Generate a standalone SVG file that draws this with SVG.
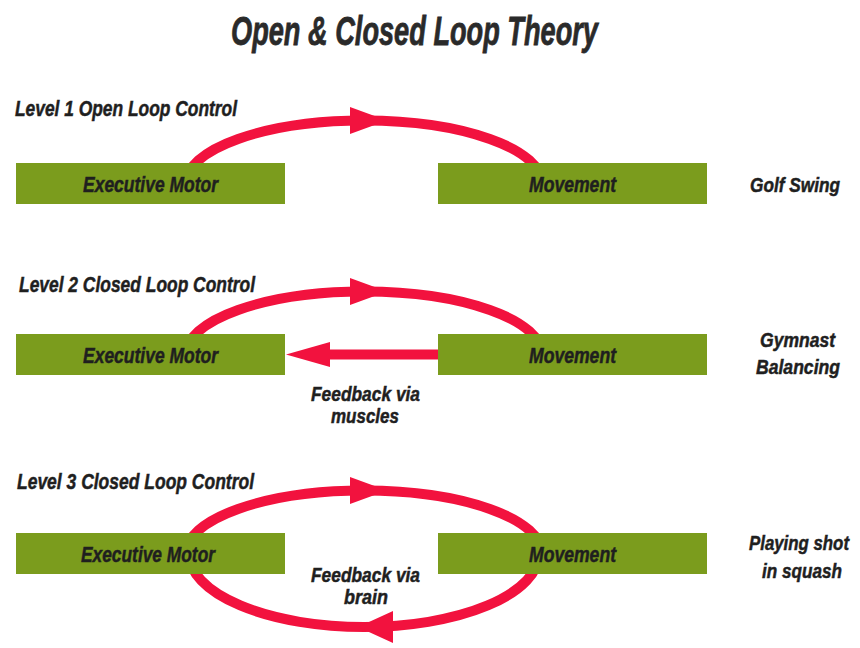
<svg xmlns="http://www.w3.org/2000/svg" width="860" height="648" viewBox="0 0 860 648">
  <style>
    .box { fill: #7b9c1d; }
    .lbl { font-family: "Liberation Sans Narrow", "Liberation Sans", "DejaVu Sans Condensed", sans-serif; font-weight: bold; font-style: italic; font-size: 22px; fill: #1f1f1f; stroke: #1f1f1f; stroke-width: 0.5; }
    .side { font-size: 20px; }
    .title { font-size: 40px; fill: #2a2a2a; stroke: #2a2a2a; stroke-width: 0.8; }
    .flow { fill: none; stroke: #f2123e; stroke-width: 10; }
    .head { fill: #f2123e; }
  </style>
  <rect width="860" height="648" fill="#ffffff"/>

  <text class="lbl title" x="231" y="45" textLength="367" lengthAdjust="spacingAndGlyphs">Open &amp; Closed Loop Theory</text>

  <!-- level headings -->
  <g id="heading-level1"><text class="lbl" x="15" y="116" font-size="21" textLength="222" lengthAdjust="spacingAndGlyphs">Level 1 Open Loop Control</text></g>
  <g id="heading-level2"><text class="lbl" x="19" y="292" font-size="21" textLength="236" lengthAdjust="spacingAndGlyphs">Level 2 Closed Loop Control</text></g>
  <g id="heading-level3"><text class="lbl" x="17" y="489" font-size="21" textLength="237" lengthAdjust="spacingAndGlyphs">Level 3 Closed Loop Control</text></g>

  <!-- connectors -->
  <g id="connectors">
    <!-- level 1: motor to movement -->
    <path class="flow" d="M 186 183.5 A 178 63 0 0 1 542 183.5"/>
    <polygon class="head" points="350,107 387,120.5 350,134"/>
    <!-- level 2: motor to movement, feedback back via muscles -->
    <path class="flow" d="M 186 354.5 A 178 63 0 0 1 542 354.5"/>
    <polygon class="head" points="350,278 387,291.5 350,305"/>
    <line class="flow" x1="438" y1="354.5" x2="325" y2="354.5" stroke-width="9"/>
    <polygon class="head" points="330,342 286,354.5 330,367"/>
    <!-- level 3: full loop through brain -->
    <path class="flow" d="M 186 553.5 A 178 63 0 0 1 542 553.5"/>
    <polygon class="head" points="350,477 387,490.5 350,504"/>
    <path class="flow" d="M 539 553.5 A 175 73.5 0 0 1 189 553.5"/>
    <polygon class="head" points="393,611 358,627 393,643"/>
  </g>

  <!-- level 1 nodes -->
  <g id="motor1">
    <rect class="box" x="16" y="163" width="269" height="41"/>
    <text class="lbl" x="83" y="192" textLength="135" lengthAdjust="spacingAndGlyphs">Executive Motor</text>
  </g>
  <g id="movement1">
    <rect class="box" x="438" y="163" width="269" height="41"/>
    <text class="lbl" x="529" y="192" textLength="87" lengthAdjust="spacingAndGlyphs">Movement</text>
  </g>
  <g id="example1"><text class="lbl side" x="750" y="192" textLength="90" lengthAdjust="spacingAndGlyphs">Golf Swing</text></g>

  <!-- level 2 nodes -->
  <g id="motor2">
    <rect class="box" x="16" y="334" width="269" height="41"/>
    <text class="lbl" x="83" y="363" textLength="135" lengthAdjust="spacingAndGlyphs">Executive Motor</text>
  </g>
  <g id="movement2">
    <rect class="box" x="438" y="334" width="269" height="41"/>
    <text class="lbl" x="529" y="363" textLength="87" lengthAdjust="spacingAndGlyphs">Movement</text>
  </g>
  <g id="feedback2">
    <text class="lbl side" x="311" y="401" textLength="109" lengthAdjust="spacingAndGlyphs">Feedback via</text>
    <text class="lbl side" x="331" y="423" textLength="68" lengthAdjust="spacingAndGlyphs">muscles</text>
  </g>
  <g id="example2">
    <text class="lbl side" x="760" y="347" textLength="75" lengthAdjust="spacingAndGlyphs">Gymnast</text>
    <text class="lbl side" x="756" y="374" textLength="84" lengthAdjust="spacingAndGlyphs">Balancing</text>
  </g>

  <!-- level 3 nodes -->
  <g id="motor3">
    <rect class="box" x="16" y="533" width="269" height="41"/>
    <text class="lbl" x="81" y="562" textLength="134" lengthAdjust="spacingAndGlyphs">Executive Motor</text>
  </g>
  <g id="movement3">
    <rect class="box" x="438" y="533" width="269" height="41"/>
    <text class="lbl" x="529" y="562" textLength="87" lengthAdjust="spacingAndGlyphs">Movement</text>
  </g>
  <g id="feedback3">
    <text class="lbl side" x="311" y="582" textLength="109" lengthAdjust="spacingAndGlyphs">Feedback via</text>
    <text class="lbl side" x="344" y="604" textLength="44" lengthAdjust="spacingAndGlyphs">brain</text>
  </g>
  <g id="example3">
    <text class="lbl side" x="849" y="550" text-anchor="end" textLength="100" lengthAdjust="spacingAndGlyphs">Playing shot</text>
    <text class="lbl side" x="762" y="578" textLength="80" lengthAdjust="spacingAndGlyphs">in squash</text>
  </g>
</svg>
